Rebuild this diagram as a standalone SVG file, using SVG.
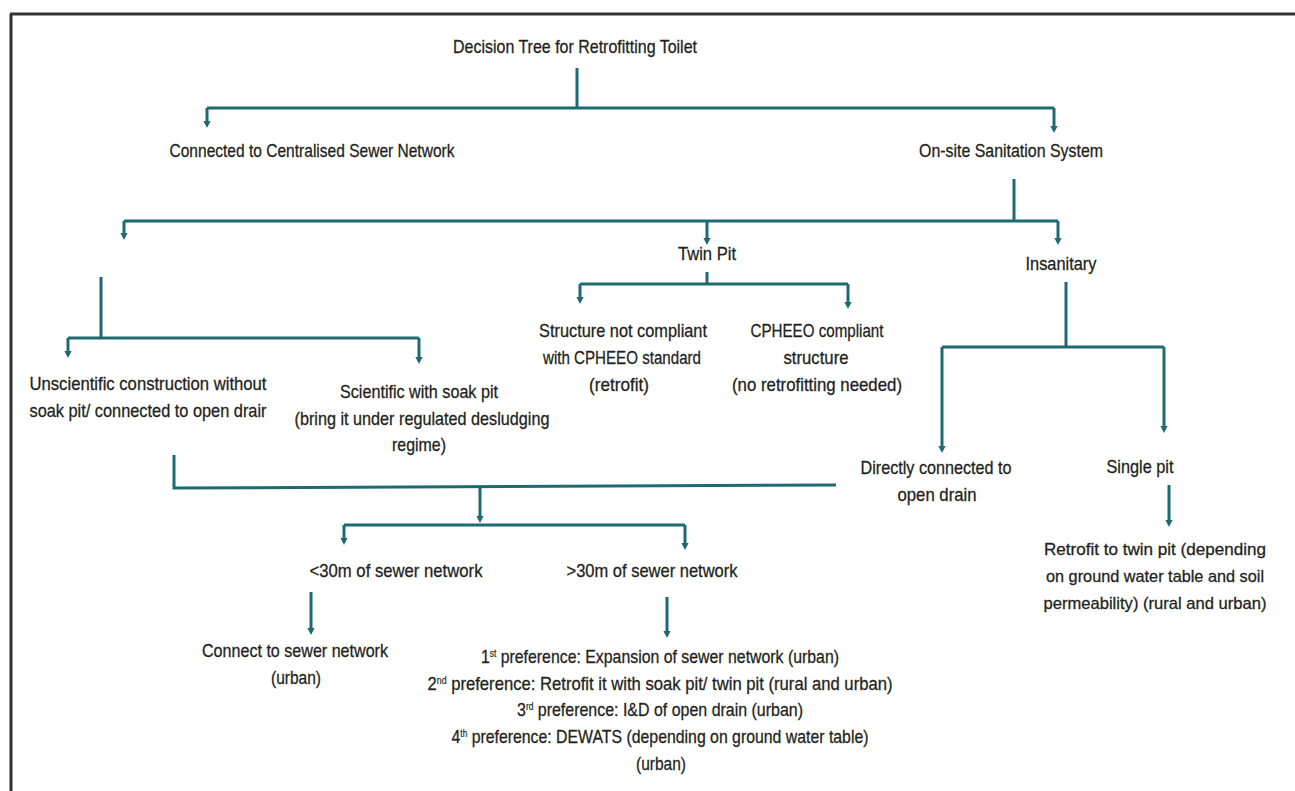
<svg xmlns="http://www.w3.org/2000/svg" width="1295" height="791" viewBox="0 0 1295 791">
  <style>
    .frame { fill: none; stroke: #333333; stroke-width: 3; }
    .link { fill: none; stroke: #1e6a72; stroke-width: 3; }
    .arrow { fill: none; stroke: #1e6a72; stroke-width: 3; marker-end: url(#head); }
    text { font-family: "Liberation Sans Narrow", "Liberation Sans", Arial, sans-serif; font-size: 19px; fill: #231f20; stroke: #231f20; stroke-width: 0.3; text-anchor: middle; }
    .sup { font-size: 10px; stroke-width: 0.2; }
    .tight { font-size: 17px; }
  </style>
  <defs>
    <marker id="head" markerUnits="userSpaceOnUse" markerWidth="10" markerHeight="10" viewBox="0 -5 8 10" refX="1" refY="0" orient="auto">
      <path d="M0,-3.6 L7,0 L0,3.6 Z" fill="#1e6a72"/>
    </marker>
  </defs>
  <rect width="1295" height="791" fill="#ffffff"/>

  <!-- page frame: top and left rules only -->
  <path class="frame" d="M10 14 H1295 M11 14 V791"/>

  <!-- connectors -->
  <g id="connectors">
    <path class="link" d="M577 68 V108 M207 108 H1054"/>
    <path class="arrow" d="M207 108 V122"/>
    <path class="arrow" d="M1054 108 V127"/>

    <path class="link" d="M1014 179 V221 M124 221 H1058"/>
    <path class="arrow" d="M124 221 V234"/>
    <path class="arrow" d="M707 221 V239"/>
    <path class="arrow" d="M1058 221 V239"/>

    <path class="link" d="M101 277 V338 M68 338 H419"/>
    <path class="arrow" d="M68 338 V352"/>
    <path class="arrow" d="M419 338 V358"/>

    <path class="link" d="M707 272 V284 M580 284 H848"/>
    <path class="arrow" d="M580 284 V298"/>
    <path class="arrow" d="M848 284 V303"/>

    <path class="link" d="M1066 282 V347 M942 347 H1164"/>
    <path class="arrow" d="M942 347 V447"/>
    <path class="arrow" d="M1164 347 V427"/>

    <path class="link" d="M174 455 V488 L836 485"/>
    <path class="arrow" d="M480 487 V517"/>
    <path class="link" d="M344 525 H685"/>
    <path class="arrow" d="M344 525 V539"/>
    <path class="arrow" d="M685 525 V544"/>

    <path class="arrow" d="M311 592 V629"/>
    <path class="arrow" d="M667 597 V632"/>
    <path class="arrow" d="M1169 485 V521"/>
  </g>

  <g id="title"><text x="575" y="53" textLength="244" lengthAdjust="spacingAndGlyphs">Decision Tree for Retrofitting Toilet</text></g>

  <g id="centralised"><text x="312" y="157" textLength="285" lengthAdjust="spacingAndGlyphs">Connected to Centralised Sewer Network</text></g>
  <g id="onsite"><text x="1011" y="157" textLength="184" lengthAdjust="spacingAndGlyphs">On-site Sanitation System</text></g>

  <g id="twinpit"><text x="707" y="260" textLength="58" lengthAdjust="spacingAndGlyphs">Twin Pit</text></g>
  <g id="insanitary"><text x="1061" y="270" textLength="71" lengthAdjust="spacingAndGlyphs">Insanitary</text></g>

  <g id="not-compliant">
    <text x="623" y="337" textLength="168" lengthAdjust="spacingAndGlyphs">Structure not compliant</text>
    <text x="622" y="364" textLength="158" lengthAdjust="spacingAndGlyphs">with CPHEEO standard</text>
    <text x="619" y="391" textLength="60" lengthAdjust="spacingAndGlyphs">(retrofit)</text>
  </g>
  <g id="compliant">
    <text x="817" y="337" textLength="133" lengthAdjust="spacingAndGlyphs">CPHEEO compliant</text>
    <text x="816" y="364" textLength="65" lengthAdjust="spacingAndGlyphs">structure</text>
    <text x="817" y="391" textLength="170" lengthAdjust="spacingAndGlyphs">(no retrofitting needed)</text>
  </g>

  <g id="unscientific">
    <text x="148" y="390" textLength="237" lengthAdjust="spacingAndGlyphs">Unscientific construction without</text>
    <text x="148" y="417" textLength="237" lengthAdjust="spacingAndGlyphs">soak pit/ connected to open drair</text>
  </g>
  <g id="scientific">
    <text x="419" y="398" textLength="158" lengthAdjust="spacingAndGlyphs">Scientific with soak pit</text>
    <text x="422" y="425" textLength="255" lengthAdjust="spacingAndGlyphs">(bring it under regulated desludging</text>
    <text x="419" y="451" textLength="54" lengthAdjust="spacingAndGlyphs">regime)</text>
  </g>

  <g id="direct-drain">
    <text x="936" y="474" textLength="151" lengthAdjust="spacingAndGlyphs">Directly connected to</text>
    <text x="937" y="501" textLength="79" lengthAdjust="spacingAndGlyphs">open drain</text>
  </g>
  <g id="single-pit"><text x="1140" y="473" textLength="67" lengthAdjust="spacingAndGlyphs">Single pit</text></g>
  <g id="retrofit-twin">
    <text class="tight" x="1155" y="555" textLength="222" lengthAdjust="spacingAndGlyphs">Retrofit to twin pit (depending</text>
    <text class="tight" x="1155" y="582" textLength="218" lengthAdjust="spacingAndGlyphs">on ground water table and soil</text>
    <text class="tight" x="1155" y="609" textLength="223" lengthAdjust="spacingAndGlyphs">permeability) (rural and urban)</text>
  </g>

  <g id="near-sewer"><text x="396" y="577" textLength="173" lengthAdjust="spacingAndGlyphs">&lt;30m of sewer network</text></g>
  <g id="far-sewer"><text x="652" y="577" textLength="171" lengthAdjust="spacingAndGlyphs">&gt;30m of sewer network</text></g>

  <g id="connect-sewer">
    <text x="295" y="657" textLength="186" lengthAdjust="spacingAndGlyphs">Connect to sewer network</text>
    <text x="296" y="684" textLength="50" lengthAdjust="spacingAndGlyphs">(urban)</text>
  </g>

  <g id="preferences">
    <text x="660" y="663" textLength="358" lengthAdjust="spacingAndGlyphs">1<tspan class="sup" dy="-6">st</tspan><tspan dy="6"> preference: Expansion of sewer network (urban)</tspan></text>
    <text x="660" y="690" textLength="465" lengthAdjust="spacingAndGlyphs">2<tspan class="sup" dy="-6">nd</tspan><tspan dy="6"> preference: Retrofit it with soak pit/ twin pit (rural and urban)</tspan></text>
    <text x="660" y="716" textLength="286" lengthAdjust="spacingAndGlyphs">3<tspan class="sup" dy="-6">rd</tspan><tspan dy="6"> preference: I&amp;D of open drain (urban)</tspan></text>
    <text x="660" y="743" textLength="417" lengthAdjust="spacingAndGlyphs">4<tspan class="sup" dy="-6">th</tspan><tspan dy="6"> preference: DEWATS (depending on ground water table)</tspan></text>
    <text x="661" y="770" textLength="50" lengthAdjust="spacingAndGlyphs">(urban)</text>
  </g>
</svg>
